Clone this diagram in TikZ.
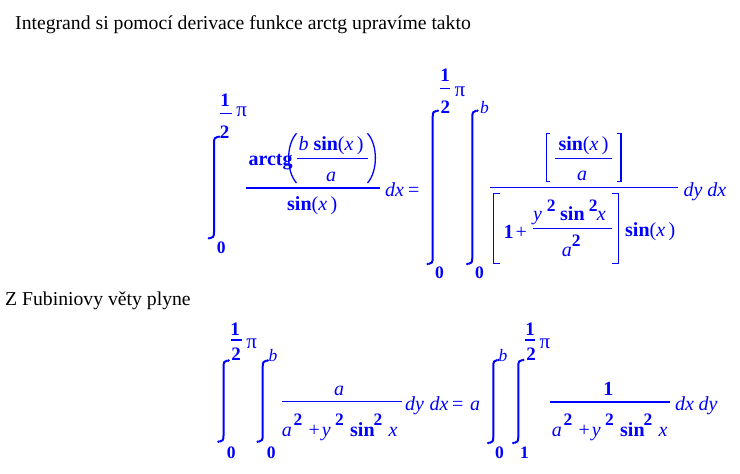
\documentclass[tikz,border=0pt]{standalone}
\usepackage{fontspec}
\setmainfont{Liberation Serif}
\definecolor{mblue}{RGB}{0,0,255}
\newcommand\mfont{\fontsize{20}{22}\selectfont}
\newcommand\scfont{\fontsize{17.5}{19}\selectfont}
\newcommand\limfont{\fontsize{19}{21}\selectfont}
\newcommand\pifont{\fontsize{21}{23}\selectfont}
\newcommand\tfont{\fontsize{19.7}{22}\selectfont}
\newcommand\integ[3]{%
  \draw[intl] (#1+4,#2) .. controls (#1+1,#2) and (#1,#2+2) .. (#1,#2+6) -- (#1,#3-6) .. controls (#1,#3-2) and (#1-1,#3) .. (#1-4,#3);
  \fill[mblue] (#1+5,#2) circle (1.4);
  \fill[mblue] (#1-5,#3) circle (1.4);
}
\begin{document}
\begin{tikzpicture}[x=1pt,y=-1pt,
  m/.style={inner sep=0pt, anchor=base west, text=mblue, font=\mfont},
  s/.style={inner sep=0pt, anchor=base west, text=mblue, font=\scfont},
  lim/.style={inner sep=0pt, anchor=base, text=mblue, font=\limfont},
  pis/.style={inner sep=0pt, anchor=base west, text=mblue, font=\pifont},
  bar/.style={draw=mblue, line width=1.5pt},
  sbar/.style={draw=mblue, line width=1.3pt},
  intl/.style={draw=mblue, line width=2pt},
  brk/.style={draw=mblue, line width=1.5pt},
  txt/.style={inner sep=0pt, anchor=base west, text=black, font=\tfont}]
\fill[white] (0,0) rectangle (740,474);
\useasboundingbox (0,0) rectangle (740,474);

% texts
\node[txt] (t1) at (15,29) {Integrand si pomocí derivace funkce arctg upravíme takto};
\node[txt] (t2) at (5,305) {Z Fubiniovy věty plyne};

% ===== equation 1 =====
\integ{214}{136.7}{238.3}
\node[lim] (a1) at (225,106.7) {\textbf{1}};
\draw[sbar] (220,113.3) -- (231.7,113.3);
\node[lim] (a2) at (224.5,138.3) {\textbf{2}};
\node[pis] (api) at (236.2,116.7) {π};
\node[s] (a0) at (216.7,253.3) {\textbf{0}};

\node[m] (arctg) at (248.3,165.5) {\textbf{arctg}};
\draw[brk,line width=1.3pt] (296.5,133.3) .. controls (286,145) and (286,171) .. (296.5,183);
\draw[brk,line width=1.3pt] (367.5,133.3) .. controls (378,145) and (378,171) .. (367.5,183);
\node[m] (bsin) at (298.3,150) {\textit{b} \textbf{sin}(\textit{x}\,)};
\draw[bar] (296.7,158.3) -- (368.3,158.3);
\node[m,anchor=base] (ia) at (331,181.5) {\textit{a}};
\draw[bar] (246,188) -- (380,188);
\node[m] (dsin) at (287,210) {\textbf{sin}(\textit{x}\,)};
\node[m] (dx1) at (385,196.5) {\textit{dx}};
\node[m] (eq1) at (408,196.5) {=};

\integ{432.7}{110.7}{264}
\node[lim] (b1) at (445,81.7) {\textbf{1}};
\draw[sbar] (440,88.3) -- (450,88.3);
\node[lim] (b2) at (445.3,113) {\textbf{2}};
\node[pis] (bpi) at (454.5,96.7) {π};
\node[s] (b0) at (435,278) {\textbf{0}};

\integ{472.3}{110.7}{264}
\node[s] (cb) at (480,113) {\textit{b}};
\node[s] (c0) at (475,278) {\textbf{0}};

\draw[brk] (550,133.3) -| (546.7,181.7) -- (550,181.7);
\draw[brk] (616.7,133.3) -| (621,181.7) -- (616.7,181.7);
\node[m] (nsin) at (558.3,150) {\textbf{sin}(\textit{x}\,)};
\draw[bar] (555,158.3) -- (611.7,158.3);
\node[m,anchor=base] (na) at (582,180.5) {\textit{a}};
\draw[bar] (490,187.7) -- (678.3,187.7);
\node[m] (dydx) at (683.3,196.5) {\textit{dy dx}};

\draw[brk] (500,193.3) -| (493.3,263.3) -- (500,263.3);
\draw[brk] (611.7,193.3) -| (618.3,263.3) -- (611.7,263.3);
\node[m] (one) at (503.3,238.3) {\textbf{1}};
\node[m] (plus) at (515.5,238.3) {+};
\node[m] (yy) at (533,220) {\textit{y}};
\node[s] (y2) at (546.7,211.7) {\textbf{2}};
\node[m] (sin2) at (560,220) {\textbf{sin}};
\node[s] (s2) at (588.7,211.7) {\textbf{2}};
\node[m] (xx) at (596.7,220) {\textit{x}};
\draw[bar] (533.3,228.3) -- (611.7,228.3);
\node[m] (da) at (561.7,256.7) {\textit{a}};
\node[s] (da2) at (571.7,246.7) {\textbf{2}};
\node[m] (dsin2) at (625,236.7) {\textbf{sin}(\textit{x}\,)};

% ===== equation 2 =====
\integ{223.5}{360.5}{441.7}
\node[lim] (d1) at (235,335) {\textbf{1}};
\draw[sbar] (230.7,340) -- (241.7,340);
\node[lim] (d2) at (236,360) {\textbf{2}};
\node[pis] (dpi) at (246.2,348) {π};
\node[s] (d0) at (226.7,458.3) {\textbf{0}};

\integ{262.7}{360.5}{441.7}
\node[s] (eb) at (268.3,361.7) {\textit{b}};
\node[s] (e0) at (266.7,458.3) {\textbf{0}};

\node[m,anchor=base] (fa) at (339,395) {\textit{a}};
\draw[bar] (281.7,401.7) -- (401.7,401.7);
\node[m] (la) at (281.7,436.5) {\textit{a}};
\node[s] (la2) at (293.3,425) {\textbf{2}};
\node[m] (lp) at (308.3,436.5) {+};
\node[m] (ly) at (321.7,436.5) {\textit{y}};
\node[s] (ly2) at (335,425) {\textbf{2}};
\node[m] (lsin) at (350,436.5) {\textbf{sin}};
\node[s] (ls2) at (373.3,425) {\textbf{2}};
\node[m] (lx) at (388.3,436.5) {\textit{x}};
\node[m] (ldy) at (405,410.5) {\textit{dy}};
\node[m] (ldx) at (429.5,410.5) {\textit{dx}};
\node[m] (leq) at (452,410.5) {=};
\node[m] (lfa) at (470,410.5) {\textit{a}};

\integ{493.3}{360}{443}
\node[s] (fb) at (498.3,361.7) {\textit{b}};
\node[s] (f0) at (495,458.3) {\textbf{0}};

\integ{518.3}{360}{443}
\node[s] (g0) at (520,458.3) {\textbf{1}};
\node[lim] (g1) at (530,335) {\textbf{1}};
\draw[sbar] (525,340) -- (535,340);
\node[lim] (g2) at (531,360) {\textbf{2}};
\node[pis] (gpi) at (539.5,348) {π};

\node[m,anchor=base] (rn) at (608.3,395) {\textbf{1}};
\draw[bar] (550,402) -- (670,402);
\node[m] (ra) at (551.7,436.5) {\textit{a}};
\node[s] (ra2) at (563.3,425) {\textbf{2}};
\node[m] (rp) at (578.3,436.5) {+};
\node[m] (ry) at (591.7,436.5) {\textit{y}};
\node[s] (ry2) at (605,425) {\textbf{2}};
\node[m] (rsin) at (620,436.5) {\textbf{sin}};
\node[s] (rs2) at (643.3,425) {\textbf{2}};
\node[m] (rx) at (658.3,436.5) {\textit{x}};
\node[m] (rdx) at (675,410.5) {\textit{dx}};
\node[m] (rdy) at (698.3,410.5) {\textit{dy}};
\end{tikzpicture}
\end{document}
